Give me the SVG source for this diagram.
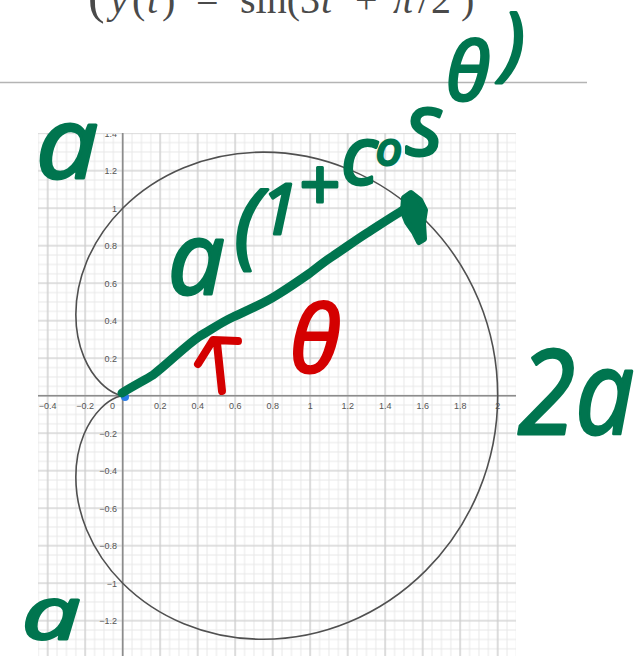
<svg xmlns="http://www.w3.org/2000/svg" width="636" height="656" viewBox="0 0 636 656">
<style>
.tick{font-family:"Liberation Sans",Arial,sans-serif;font-size:9px;fill:#555}
.xt{text-anchor:middle}
.yt{text-anchor:end}
.hand{font-family:"Open Sans","Noto Sans",sans-serif;font-style:italic;font-weight:400;fill:#00754f;stroke:#00754f;stroke-width:3;stroke-linejoin:round}
.handr{font-family:"Open Sans","Noto Sans",sans-serif;font-style:italic;font-weight:400;fill:#d40000;stroke:#d40000;stroke-width:3;stroke-linejoin:round}
.ink{fill:none;stroke-linecap:round;stroke-linejoin:round}
.title{font-family:"Liberation Serif","Times New Roman",serif;font-size:40px;fill:#4a4a4a}
</style>
<defs>
<pattern id="gmin" x="118.0125" y="391.0125" width="9.375" height="9.375" patternUnits="userSpaceOnUse"><path d="M4.6875 0V9.375M0 4.6875H9.375" stroke="#e8e8e8" stroke-width="1"/></pattern>
<pattern id="gmaj" x="103.95" y="376.95" width="37.5" height="37.5" patternUnits="userSpaceOnUse"><path d="M18.75 0V37.5M0 18.75H37.5" stroke="#cdcdcd" stroke-width="1.2"/></pattern>
<clipPath id="plotclip"><rect x="0" y="134" width="520" height="522"/></clipPath>
</defs>
<rect width="636" height="656" fill="#fff"/>

<g id="title">
<text class="title" y="13"><tspan x="88" font-size="50">(</tspan><tspan x="110" font-style="italic">y</tspan><tspan x="132">(</tspan><tspan x="147" font-style="italic">t</tspan><tspan x="162">)</tspan><tspan x="196">=</tspan><tspan x="240">sin(3</tspan><tspan x="321" font-style="italic">t</tspan><tspan x="355">+</tspan><tspan x="393" font-style="italic">π</tspan><tspan x="418">/</tspan><tspan x="431">2</tspan><tspan x="461">)</tspan></text>
</g>
<g id="rule"><line x1="0" y1="82.5" x2="587" y2="82.5" stroke="#b4b4b4" stroke-width="1.5"/></g>

<g id="plot">
<rect x="38" y="133" width="478" height="523" fill="url(#gmin)"/>
<rect x="38" y="133" width="478" height="523" fill="url(#gmaj)"/>
<line x1="38" y1="395.7" x2="516" y2="395.7" stroke="#8c8c8c" stroke-width="1.6"/>
<line x1="122.7" y1="133" x2="122.7" y2="656" stroke="#8c8c8c" stroke-width="1.6"/>
<g clip-path="url(#plotclip)">
<text class="tick xt" x="47.7" y="409">−0.4</text>
<text class="tick xt" x="85.2" y="409">−0.2</text>
<text class="tick xt" x="112.5" y="409">0</text>
<text class="tick xt" x="160.2" y="409">0.2</text>
<text class="tick xt" x="197.7" y="409">0.4</text>
<text class="tick xt" x="235.2" y="409">0.6</text>
<text class="tick xt" x="272.7" y="409">0.8</text>
<text class="tick xt" x="310.2" y="409">1</text>
<text class="tick xt" x="347.7" y="409">1.2</text>
<text class="tick xt" x="385.2" y="409">1.4</text>
<text class="tick xt" x="422.7" y="409">1.6</text>
<text class="tick xt" x="460.2" y="409">1.8</text>
<text class="tick xt" x="497.7" y="409">2</text>
<text class="tick yt" x="117" y="136.5">1.4</text>
<text class="tick yt" x="117" y="174">1.2</text>
<text class="tick yt" x="117" y="211.5">1</text>
<text class="tick yt" x="117" y="249">0.8</text>
<text class="tick yt" x="117" y="286.5">0.6</text>
<text class="tick yt" x="117" y="324">0.4</text>
<text class="tick yt" x="117" y="361.5">0.2</text>
<text class="tick yt" x="117" y="436.5">−0.2</text>
<text class="tick yt" x="117" y="474">−0.4</text>
<text class="tick yt" x="117" y="511.5">−0.6</text>
<text class="tick yt" x="117" y="549">−0.8</text>
<text class="tick yt" x="117" y="586.5">−1</text>
<text class="tick yt" x="117" y="624">−1.2</text>
<text class="tick yt" x="117" y="661.5">−1.4</text>
</g>
<path id="cardioid" fill="none" stroke="#505050" stroke-width="1.6" d="M497.7 395.7C497.7 362.975 491.167 330.271 478.751 300.296C466.335 270.321 448.057 243.112 425.705 220.76C403.353 198.408 376.966 180.937 349.033 169.367C321.1 157.797 291.666 152.13 263.325 152.13C234.984 152.13 207.775 157.779 183.789 167.714C159.803 177.649 139.063 191.838 122.7 208.2C106.338 224.563 94.355 243.059 86.731 261.464C79.107 279.869 75.825 298.148 75.825 314.51C75.825 330.873 79.075 345.297 83.867 356.867C88.659 368.437 94.956 377.151 100.945 383.14C106.934 389.129 112.583 392.411 116.529 394.046C120.475 395.681 122.7 395.7 122.7 395.7C122.7 395.7 120.475 395.719 116.529 397.354C112.583 398.989 106.934 402.271 100.945 408.26C94.956 414.249 88.659 422.963 83.867 434.533C79.075 446.103 75.825 460.527 75.825 476.89C75.825 493.252 79.107 511.531 86.731 529.936C94.355 548.341 106.338 566.837 122.7 583.2C139.063 599.562 159.803 613.751 183.789 623.686C207.775 633.621 234.984 639.27 263.325 639.27C291.666 639.27 321.1 633.603 349.033 622.033C376.966 610.463 403.353 592.992 425.705 570.64C448.057 548.288 466.335 521.079 478.751 491.104C491.167 461.129 497.7 428.425 497.7 395.7Z"/>
<circle id="origin" cx="125" cy="397" r="4" fill="#2b7de9"/>
</g>

<g id="connectors">
<path id="radius-arrow" class="ink" stroke="#00754f" stroke-width="9" d="M122 393C135 385 145 380 153 375C170 362 185 346 200 336C212 329 222 322 233 317C248 310 263 304 277 295C290 287 300 280 310 273C318 267 325 261 333 256C345 248 356 240 367 233C378 226 390 218 400 212L414 203"/>
<path id="radius-head" fill="#00754f" stroke="#00754f" stroke-width="6" stroke-linejoin="round" d="M404 198L411 193L420 200L425 210L423 223L424 239L419 242L414 232L407 222L403 212Z"/>
<path id="angle-arrow" class="ink" stroke="#d40000" stroke-width="8" d="M198 364L213 340L238 341M222 391L217 343"/>
</g>

<g id="label-a-top"><text class="hand" x="36" y="178" font-size="98" textLength="62" lengthAdjust="spacingAndGlyphs">a</text></g>
<g id="label-a-bottom"><text class="hand" x="22" y="639" font-size="74" textLength="58" lengthAdjust="spacingAndGlyphs">a</text></g>
<g id="label-2a"><text class="hand" x="518" y="434" font-size="118" textLength="116" lengthAdjust="spacingAndGlyphs">2a</text></g>
<g id="label-r"><text class="hand"><tspan x="168" y="294" font-size="100">a</tspan><tspan x="234" y="256" font-size="94">(</tspan><tspan x="260" y="234" font-size="70">1</tspan><tspan x="298" y="210" font-size="72">+</tspan><tspan x="341" y="184" font-size="80">c</tspan><tspan x="376" y="165" font-size="46">o</tspan><tspan x="406" y="155" font-size="86">s</tspan><tspan x="446" y="100" font-size="80">θ</tspan><tspan x="502" y="70" font-size="80">)</tspan></text></g>
<g id="label-theta"><text class="handr" x="290" y="372" font-size="92">θ</text></g>
</svg>
